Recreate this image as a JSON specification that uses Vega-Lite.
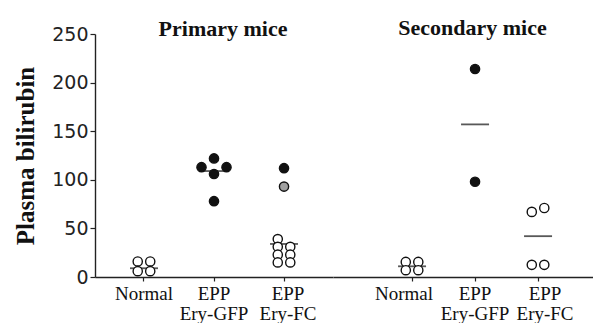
{
  "$schema": "https://vega.github.io/schema/vega-lite/v6.json",
  "background": "white",
  "padding": {"left": 12, "top": 17, "right": 0, "bottom": 0},
  "spacing": 0,
  "datasets": {
    "mice": [
      {"cohort": "Primary", "group": "Normal", "col": -1, "kind": "open", "bilirubin": 16},
      {"cohort": "Primary", "group": "Normal", "col": 1, "kind": "open", "bilirubin": 16},
      {"cohort": "Primary", "group": "Normal", "col": -1, "kind": "open", "bilirubin": 6},
      {"cohort": "Primary", "group": "Normal", "col": 1, "kind": "open", "bilirubin": 6},
      {"cohort": "Primary", "group": "EPP Ery-GFP", "col": 0, "kind": "filled", "bilirubin": 122},
      {"cohort": "Primary", "group": "EPP Ery-GFP", "col": -2, "kind": "filled", "bilirubin": 113},
      {"cohort": "Primary", "group": "EPP Ery-GFP", "col": 2, "kind": "filled", "bilirubin": 113},
      {"cohort": "Primary", "group": "EPP Ery-GFP", "col": 0, "kind": "filled", "bilirubin": 106},
      {"cohort": "Primary", "group": "EPP Ery-GFP", "col": 0, "kind": "filled", "bilirubin": 78},
      {"cohort": "Primary", "group": "EPP Ery-FC", "col": 0, "kind": "filled", "bilirubin": 112},
      {"cohort": "Primary", "group": "EPP Ery-FC", "col": 0, "kind": "gray", "bilirubin": 93},
      {"cohort": "Primary", "group": "EPP Ery-FC", "col": -1, "kind": "open", "bilirubin": 39},
      {"cohort": "Primary", "group": "EPP Ery-FC", "col": -1, "kind": "open", "bilirubin": 31},
      {"cohort": "Primary", "group": "EPP Ery-FC", "col": 1, "kind": "open", "bilirubin": 31},
      {"cohort": "Primary", "group": "EPP Ery-FC", "col": -1, "kind": "open", "bilirubin": 23},
      {"cohort": "Primary", "group": "EPP Ery-FC", "col": 1, "kind": "open", "bilirubin": 23},
      {"cohort": "Primary", "group": "EPP Ery-FC", "col": -1, "kind": "open", "bilirubin": 15},
      {"cohort": "Primary", "group": "EPP Ery-FC", "col": 1, "kind": "open", "bilirubin": 15},
      {"cohort": "Secondary", "group": "Normal", "col": -1, "kind": "open", "bilirubin": 15.5},
      {"cohort": "Secondary", "group": "Normal", "col": 1, "kind": "open", "bilirubin": 15.5},
      {"cohort": "Secondary", "group": "Normal", "col": -1, "kind": "open", "bilirubin": 7},
      {"cohort": "Secondary", "group": "Normal", "col": 1, "kind": "open", "bilirubin": 7},
      {"cohort": "Secondary", "group": "EPP Ery-GFP", "col": 0, "kind": "filled", "bilirubin": 214},
      {"cohort": "Secondary", "group": "EPP Ery-GFP", "col": 0, "kind": "filled", "bilirubin": 98},
      {"cohort": "Secondary", "group": "EPP Ery-FC", "col": -1, "kind": "open", "bilirubin": 67},
      {"cohort": "Secondary", "group": "EPP Ery-FC", "col": 1, "kind": "open", "bilirubin": 71},
      {"cohort": "Secondary", "group": "EPP Ery-FC", "col": -1, "kind": "open", "bilirubin": 12.5},
      {"cohort": "Secondary", "group": "EPP Ery-FC", "col": 1, "kind": "open", "bilirubin": 12.5}
    ],
    "means": [
      {"cohort": "Primary", "group": "Normal", "bilirubin": 9},
      {"cohort": "Primary", "group": "EPP Ery-GFP", "bilirubin": 109},
      {"cohort": "Primary", "group": "EPP Ery-FC", "bilirubin": 34},
      {"cohort": "Secondary", "group": "Normal", "bilirubin": 11},
      {"cohort": "Secondary", "group": "EPP Ery-GFP", "bilirubin": 157},
      {"cohort": "Secondary", "group": "EPP Ery-FC", "bilirubin": 42}
    ]
  },
  "hconcat": [
    {
      "width": 238,
      "height": 243,
      "title": {"text": "Primary mice", "dx": 9, "offset": -16},
      "layer": [
        {
          "data": {"name": "means"},
          "transform": [{"filter": "datum.cohort == 'Primary'"}],
          "mark": {"type": "tick", "size": 28, "thickness": 1.8, "color": "#111"},
          "encoding": {
            "x": {"field": "group", "type": "nominal", "sort": ["Normal", "EPP Ery-GFP", "EPP Ery-FC"],
                  "scale": {"paddingInner": 0.643, "paddingOuter": 0.521}, "title": null,
                  "axis": {"labelOffset": {"condition": {"test": "datum.value == 'EPP Ery-FC'", "value": 4}, "value": 0}}},
            "y": {"field": "bilirubin", "type": "quantitative", "scale": {"domain": [0, 250], "nice": false},
                  "axis": {"values": [0, 50, 100, 150, 200, 250], "title": "Plasma bilirubin", "titleX": -70, "titleBaseline": "middle"}}
          }
        },
        {
          "data": {"name": "mice"},
          "transform": [{"filter": "datum.cohort == 'Primary'"}],
          "mark": {"type": "point", "shape": "circle", "filled": true, "size": 85, "stroke": "#111", "strokeWidth": 1.4, "opacity": 1},
          "encoding": {
            "x": {"field": "group", "type": "nominal", "sort": ["Normal", "EPP Ery-GFP", "EPP Ery-FC"]},
            "xOffset": {"field": "col", "type": "ordinal", "scale": {"domain": [-2, -1, 0, 1, 2], "paddingInner": 0, "paddingOuter": 0}},
            "y": {"field": "bilirubin", "type": "quantitative"},
            "fill": {"field": "kind", "type": "nominal", "scale": {"domain": ["open", "gray", "filled"], "range": ["white", "#a0a0a0", "#111111"]}, "legend": null}
          }
        }
      ]
    },
    {
      "width": 261,
      "height": 243,
      "title": {"text": "Secondary mice", "dx": 9, "offset": -6},
      "layer": [
        {
          "data": {"name": "means"},
          "transform": [{"filter": "datum.cohort == 'Secondary'"}],
          "mark": {"type": "tick", "size": 28, "thickness": 1.8, "color": "#111"},
          "encoding": {
            "x": {"field": "group", "type": "nominal", "sort": ["Normal", "EPP Ery-GFP", "EPP Ery-FC"],
                  "scale": {"paddingInner": 0.603, "paddingOuter": 0.873, "align": 0.605}, "title": null,
                  "axis": {"labelOffset": {"condition": [{"test": "datum.value == 'EPP Ery-FC'", "value": 7}, {"test": "datum.value == 'Normal'", "value": -8}], "value": 0}}},
            "y": {"field": "bilirubin", "type": "quantitative", "scale": {"domain": [0, 250], "nice": false}, "axis": null}
          }
        },
        {
          "data": {"name": "mice"},
          "transform": [{"filter": "datum.cohort == 'Secondary'"}],
          "mark": {"type": "point", "shape": "circle", "filled": true, "size": 85, "stroke": "#111", "strokeWidth": 1.4, "opacity": 1},
          "encoding": {
            "x": {"field": "group", "type": "nominal", "sort": ["Normal", "EPP Ery-GFP", "EPP Ery-FC"]},
            "xOffset": {"field": "col", "type": "ordinal", "scale": {"domain": [-2, -1, 0, 1, 2], "paddingInner": 0, "paddingOuter": 0}},
            "y": {"field": "bilirubin", "type": "quantitative"},
            "fill": {"field": "kind", "type": "nominal", "scale": {"domain": ["open", "gray", "filled"], "range": ["white", "#a0a0a0", "#111111"]}, "legend": null}
          }
        }
      ]
    }
  ],
  "config": {
    "view": {"stroke": null},
    "title": {"font": "Liberation Serif", "fontSize": 22, "fontWeight": "bold", "color": "#111", "anchor": "middle", "baseline": "alphabetic", "frame": "group"},
    "axis": {"grid": false, "domainColor": "#222", "domainWidth": 1.4, "tickColor": "#222", "tickWidth": 1.2},
    "axisY": {"labelFont": "DejaVu Sans", "labelFontSize": 19, "labelColor": "#222", "tickSize": 5, "labelPadding": 2,
              "titleFont": "Liberation Serif", "titleFontSize": 25, "titleFontWeight": "bold", "titleColor": "#111"},
    "axisX": {"labelFont": "Liberation Serif", "labelFontSize": 19, "labelColor": "#111", "labelAngle": 0, "tickSize": 4,
              "labelPadding": 3, "labelLineHeight": 20, "labelExpr": "split(datum.value, ' ')", "domainWidth": 1.4}
  }
}
